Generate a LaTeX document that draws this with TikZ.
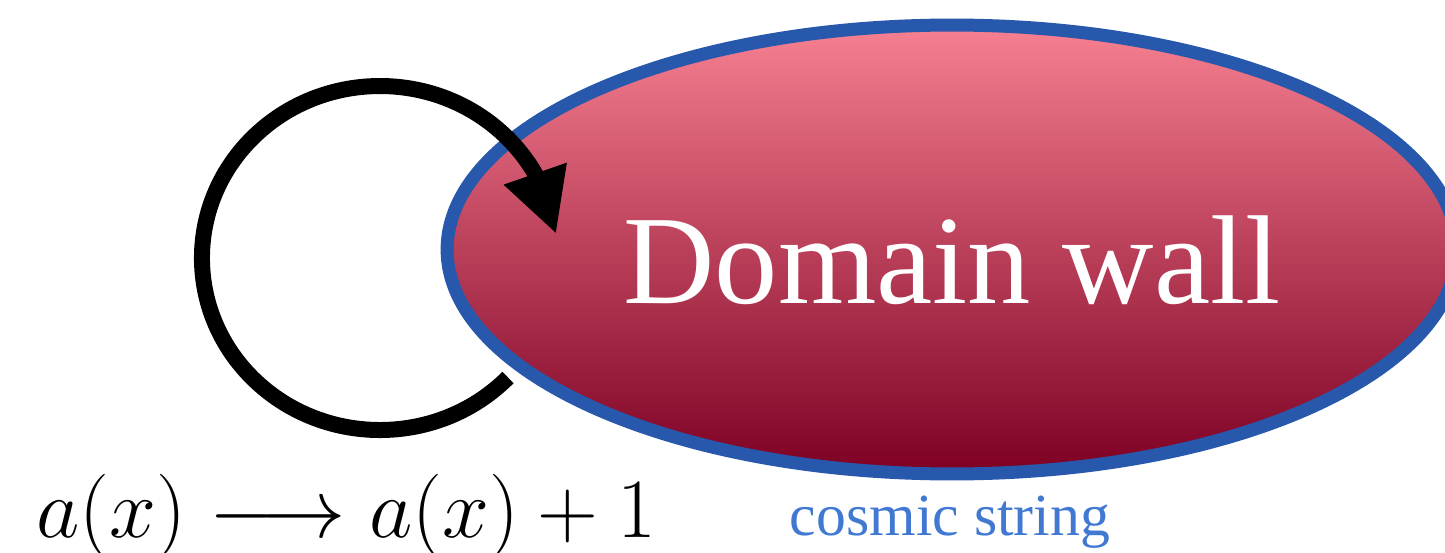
\RequirePackage{fix-cm}
\documentclass[tikz,border=0pt]{standalone}
\usepackage{fontspec}
\usepackage{tikz}
\usetikzlibrary{arrows.meta,bending,shapes.geometric}
\newfontfamily\wallfont{Liberation Serif}
\definecolor{wallrim}{RGB}{40,88,172}
\definecolor{walltop}{RGB}{247,128,145}
\definecolor{wallbot}{RGB}{125,0,35}
\definecolor{stringblue}{RGB}{65,120,210}

\begin{document}
\begin{tikzpicture}[
    x=0.02cm, y=0.02cm,
    wall/.style={ellipse, draw=wallrim, line width=0.26cm, top color=walltop, bottom color=wallbot,
                 minimum width=20.2cm, minimum height=8.98cm, inner sep=0pt, text=white,
                 font=\wallfont\fontsize{72}{80}\selectfont, text height=61pt, text depth=0pt},
    tag/.style={inner sep=0pt, anchor=base},
    loopline/.style={line width=0.32cm, -{Triangle[length=1.28cm, width=1.24cm, flex]}}
]
\useasboundingbox (0,0) rectangle (1445,552);
\node[wall] (wall) at (952,302.5) {Domain wall};
\coordinate (loopstart) at (508,174.5);
\draw[loopline] (loopstart) arc[start angle=-44, end angle=-352, x radius=178, y radius=172];
\node[tag, anchor=base west, font=\fontsize{48}{54}\selectfont] (shift) at (36,15) {$a(x)\longrightarrow a(x)+1$};
\node[tag, text=stringblue, font=\wallfont\fontsize{34}{38}\selectfont] (string) at (950,17) {cosmic string};
\end{tikzpicture}
\end{document}
